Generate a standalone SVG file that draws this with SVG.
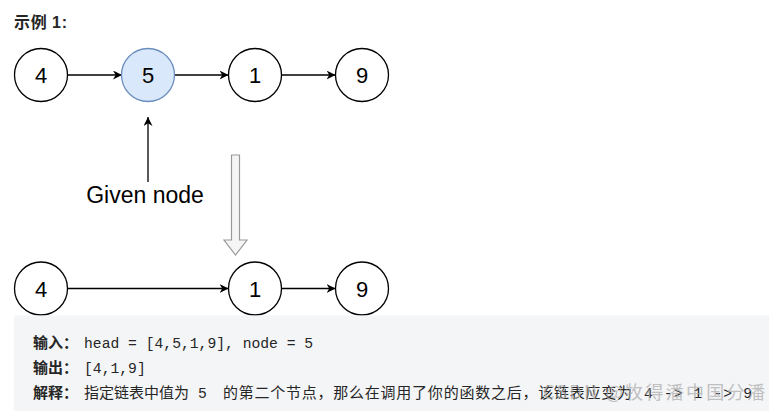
<svg xmlns="http://www.w3.org/2000/svg" width="769" height="411" viewBox="0 0 769 411">
<defs>
<marker id="arr" viewBox="0 0 10 10" refX="10" refY="5" markerWidth="9" markerHeight="9" markerUnits="userSpaceOnUse" orient="auto">
<path d="M0,0 L10,5 L0,10 L3,5 Z" fill="#000"/>
</marker>
</defs>
<style>
.n{fill:#fff;stroke:#000;stroke-width:1.3}
.hl{fill:#dae8fc;stroke:#6c8ebf}
.d{font-family:"Liberation Sans",Arial,sans-serif;font-size:22px;text-anchor:middle;fill:#000}
.e{stroke:#000;stroke-width:1.3;fill:none;marker-end:url(#arr)}
.cn{font-family:"Noto Sans CJK SC","Microsoft YaHei",sans-serif;font-size:15px;fill:#262626}
.b{font-weight:bold}
.m{font-family:"Liberation Mono","Courier New",monospace;font-size:14.7px;fill:#262626}
</style>
<rect width="769" height="411" fill="#fff"/>
<text x="14" y="28" class="cn b" style="font-size:16px" textLength="53" lengthAdjust="spacing">示例 <tspan font-family="Liberation Sans,Arial,sans-serif">1:</tspan></text>
<g id="connectors">
<line x1="67.5" y1="75" x2="122" y2="75" class="e"/>
<line x1="174.5" y1="75" x2="228.5" y2="75" class="e"/>
<line x1="281.5" y1="75" x2="335.5" y2="75" class="e"/>
<line x1="148" y1="182" x2="148" y2="117" class="e"/>
<line x1="67.5" y1="288.5" x2="228.5" y2="288.5" class="e"/>
<line x1="281.5" y1="288.5" x2="335.5" y2="288.5" class="e"/>
</g>
<g id="n4a"><circle cx="41" cy="75" r="26.5" class="n"/><text x="41" y="83" class="d">4</text></g>
<g id="n5"><circle cx="148" cy="75" r="26.5" class="n hl"/><text x="148" y="83" class="d">5</text></g>
<g id="n1a"><circle cx="255" cy="75" r="26.5" class="n"/><text x="255" y="83" class="d">1</text></g>
<g id="n9a"><circle cx="362" cy="75" r="26.5" class="n"/><text x="362" y="83" class="d">9</text></g>
<g id="given"><text x="145" y="203" class="d" style="font-size:23px">Given node</text></g>
<g id="bigarrow"><path d="M231.5,155 H239.5 V240 H247 L235.5,255 L224,240 H231.5 Z" fill="#f5f5f5" stroke="#999" stroke-width="1.2"/></g>
<g id="n4b"><circle cx="41" cy="288.5" r="26.5" class="n"/><text x="41" y="296.5" class="d">4</text></g>
<g id="n1b"><circle cx="255" cy="288.5" r="26.5" class="n"/><text x="255" y="296.5" class="d">1</text></g>
<g id="n9b"><circle cx="362" cy="288.5" r="26.5" class="n"/><text x="362" y="296.5" class="d">9</text></g>
<g id="box">
<rect x="14" y="315.5" width="755" height="96" fill="#f4f5f7"/>
<text x="33" y="348" class="cn b">输入：</text>
<text x="84" y="348" class="m">head = [4,5,1,9], node = 5</text>
<text x="33" y="373" class="cn b">输出：</text>
<text x="84" y="373" class="m">[4,1,9]</text>
<text x="33" y="398" class="cn b">解释：</text>
<text x="84" y="398" class="cn" textLength="105" lengthAdjust="spacing">指定链表中值为</text>
<text x="198" y="398" class="m">5</text>
<text x="223" y="398" class="cn" textLength="409" lengthAdjust="spacing">的第二个节点，那么在调用了你的函数之后，该链表应变为</text>
<text x="644" y="398" class="m" textLength="108" lengthAdjust="spacing">4 -&gt; 1 -&gt; 9</text>
<text x="543" y="399" style="font-family:'Noto Sans CJK SC',sans-serif;font-size:18px;fill:#aaa;opacity:0.7" textLength="222" lengthAdjust="spacing">CSDN @牧得潘中国分潘</text>
</g>
</svg>
